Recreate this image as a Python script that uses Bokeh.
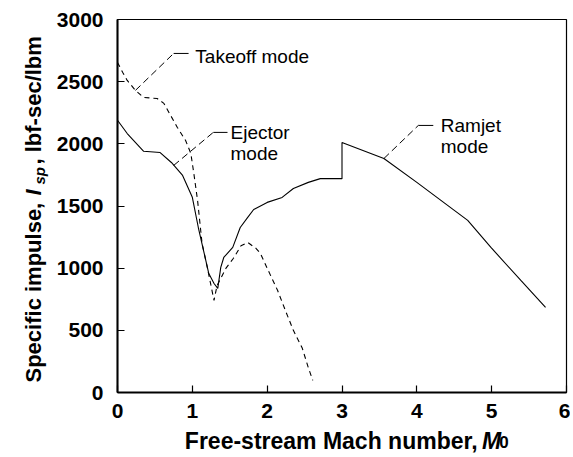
import math
from bokeh.plotting import figure
from bokeh.models import Range1d, Label, FixedTicker
from bokeh.layouts import row, column
from bokeh.embed import file_html
from bokeh.resources import INLINE

# Ejector / ramjet mode (solid)
mach_main = [0.0, 0.13, 0.35, 0.57, 0.72, 0.87, 1.0, 1.08, 1.15, 1.22, 1.29, 1.34,
             1.38, 1.42, 1.54, 1.64, 1.74, 1.82, 2.0, 2.2, 2.35, 2.55, 2.71, 3.0,
             3.0, 3.56, 4.0, 4.68, 4.99, 5.39, 5.72]
isp_main = [2190, 2083, 1940, 1930, 1850, 1746, 1570, 1327, 1142, 957, 877, 837,
            1006, 1086, 1167, 1327, 1408, 1472, 1529, 1569, 1641, 1690, 1720, 1720,
            2010, 1882, 1690, 1384, 1167, 901, 684]

# Takeoff mode (dashed)
mach_takeoff = [0.0, 0.07, 0.13, 0.24, 0.35, 0.53, 0.62, 0.80, 0.91, 0.98, 1.02,
                1.07, 1.13, 1.20, 1.29, 1.33, 1.45, 1.55, 1.65, 1.74, 1.85, 1.91,
                2.0, 2.14, 2.25, 2.35, 2.47, 2.55, 2.61]
isp_takeoff = [2655, 2574, 2510, 2430, 2373, 2365, 2325, 2132, 2027, 1923, 1762,
               1545, 1199, 1006, 740, 860, 1000, 1080, 1180, 1207, 1160, 1118,
               1000, 820, 650, 500, 355, 200, 97]

x_ticks = [0, 1, 2, 3, 4, 5, 6]
y_ticks = [0, 500, 1000, 1500, 2000, 2500, 3000]

FONT = "Liberation Sans"

YT_W = 50      # width of the strip holding the y title
MAIN_H = 427   # height of main figure (frame + borders)
XT_H = 28      # height of the strip holding the x title

p = figure(frame_width=449, frame_height=373, output_backend="svg", toolbar_location=None,
           x_range=Range1d(0, 6), y_range=Range1d(0, 3000))
p.min_border_left = 117 - YT_W
p.min_border_right = 4
p.min_border_top = 19
p.min_border_bottom = MAIN_H - 19 - 373
p.background_fill_color = "white"
p.border_fill_color = "white"
p.grid.visible = False
p.outline_line_color = "black"
p.outline_line_width = 1.2

p.xaxis.ticker = FixedTicker(ticks=x_ticks)
p.yaxis.ticker = FixedTicker(ticks=y_ticks)
for ax in (p.xaxis[0], p.yaxis[0]):
    ax.major_tick_in = 7
    ax.major_tick_out = 0
    ax.minor_tick_in = 0
    ax.minor_tick_out = 0
    ax.axis_line_color = "black"
    ax.axis_line_width = 2
    ax.major_tick_line_color = "black"
    ax.major_tick_line_width = 1.2
    ax.major_label_text_font = FONT
    ax.major_label_text_font_style = "bold"
    ax.major_label_text_font_size = "21px"
    ax.major_label_text_color = "black"
    ax.axis_label_standoff = 0
p.xaxis.major_label_standoff = 11
p.yaxis.major_label_standoff = 14

p.line(mach_main, isp_main, line_color="black", line_width=1.1)
p.line(mach_takeoff, isp_takeoff, line_color="black", line_width=1.1, line_dash="5 4")

# leader lines
leaders = [
    ([0.24, 0.75], [2430, 2727], [0.75, 0.95], [2727, 2727]),
    ([0.75, 1.28], [1826, 2092], [1.28, 1.47], [2092, 2092]),
    ([3.56, 4.02], [1882, 2148], [4.02, 4.22], [2148, 2148]),
]
for dx, dy, hx, hy in leaders:
    p.line(dx, dy, line_color="black", line_width=1, line_dash="7 4")
    p.line(hx, hy, line_color="black", line_width=1)

labels = [
    (1.04, 2700, "Takeoff mode"),
    (1.51, 2095, "Ejector"),
    (1.51, 1925, "mode"),
    (4.32, 2150, "Ramjet"),
    (4.32, 1980, "mode"),
]
for lx, ly, t in labels:
    p.add_layout(Label(x=lx, y=ly, text=t, text_font=FONT, text_font_size="19px",
                       text_color="black", text_baseline="middle", text_align="left"))


def strip(w, h):
    f = figure(width=w, height=h, output_backend="svg", toolbar_location=None,
               x_range=Range1d(0, w), y_range=Range1d(0, h),
               x_axis_location=None, y_axis_location=None, min_border=0)
    f.outline_line_color = None
    f.background_fill_color = "white"
    f.border_fill_color = "white"
    f.grid.visible = False
    return f


def piece(f, x, y, text, size, style, angle=0.0, align="left", baseline="alphabetic"):
    f.add_layout(Label(x=x, y=y, text=text, text_font=FONT, text_font_size=size,
                       text_font_style=style, text_color="black",
                       text_baseline=baseline, text_align=align, angle=angle))

# y title strip (coordinates in pixels, y up from strip bottom)
H_ALL = MAIN_H + XT_H
yt = strip(YT_W, H_ALL)
A = math.pi / 2
piece(yt, 33, H_ALL - 382, "Specific impulse,", "22px", "bold", angle=A)
piece(yt, 33, H_ALL - 195, "I", "22px", "bold italic", angle=A)
piece(yt, 39, H_ALL - 184, "sp", "15px", "bold italic", angle=A)
piece(yt, 33, H_ALL - 164, ", lbf-sec/lbm", "22px", "bold", angle=A)

# x title strip: text hangs from the strip top
XT_W = 117 - YT_W + 449 + 4
xt = strip(XT_W, XT_H)
piece(xt, 467 - YT_W, XT_H, "Free-stream Mach number,", "23px", "bold",
      align="right", baseline="top")
piece(xt, 472 - YT_W, XT_H, "M", "23px", "bold italic", baseline="top")
piece(xt, 492 - YT_W, XT_H - 8, "0", "17px", "bold", baseline="top")

layout = row(yt, column(p, xt, spacing=0), spacing=0)

open("out.html", "w").write(file_html(layout, INLINE))
